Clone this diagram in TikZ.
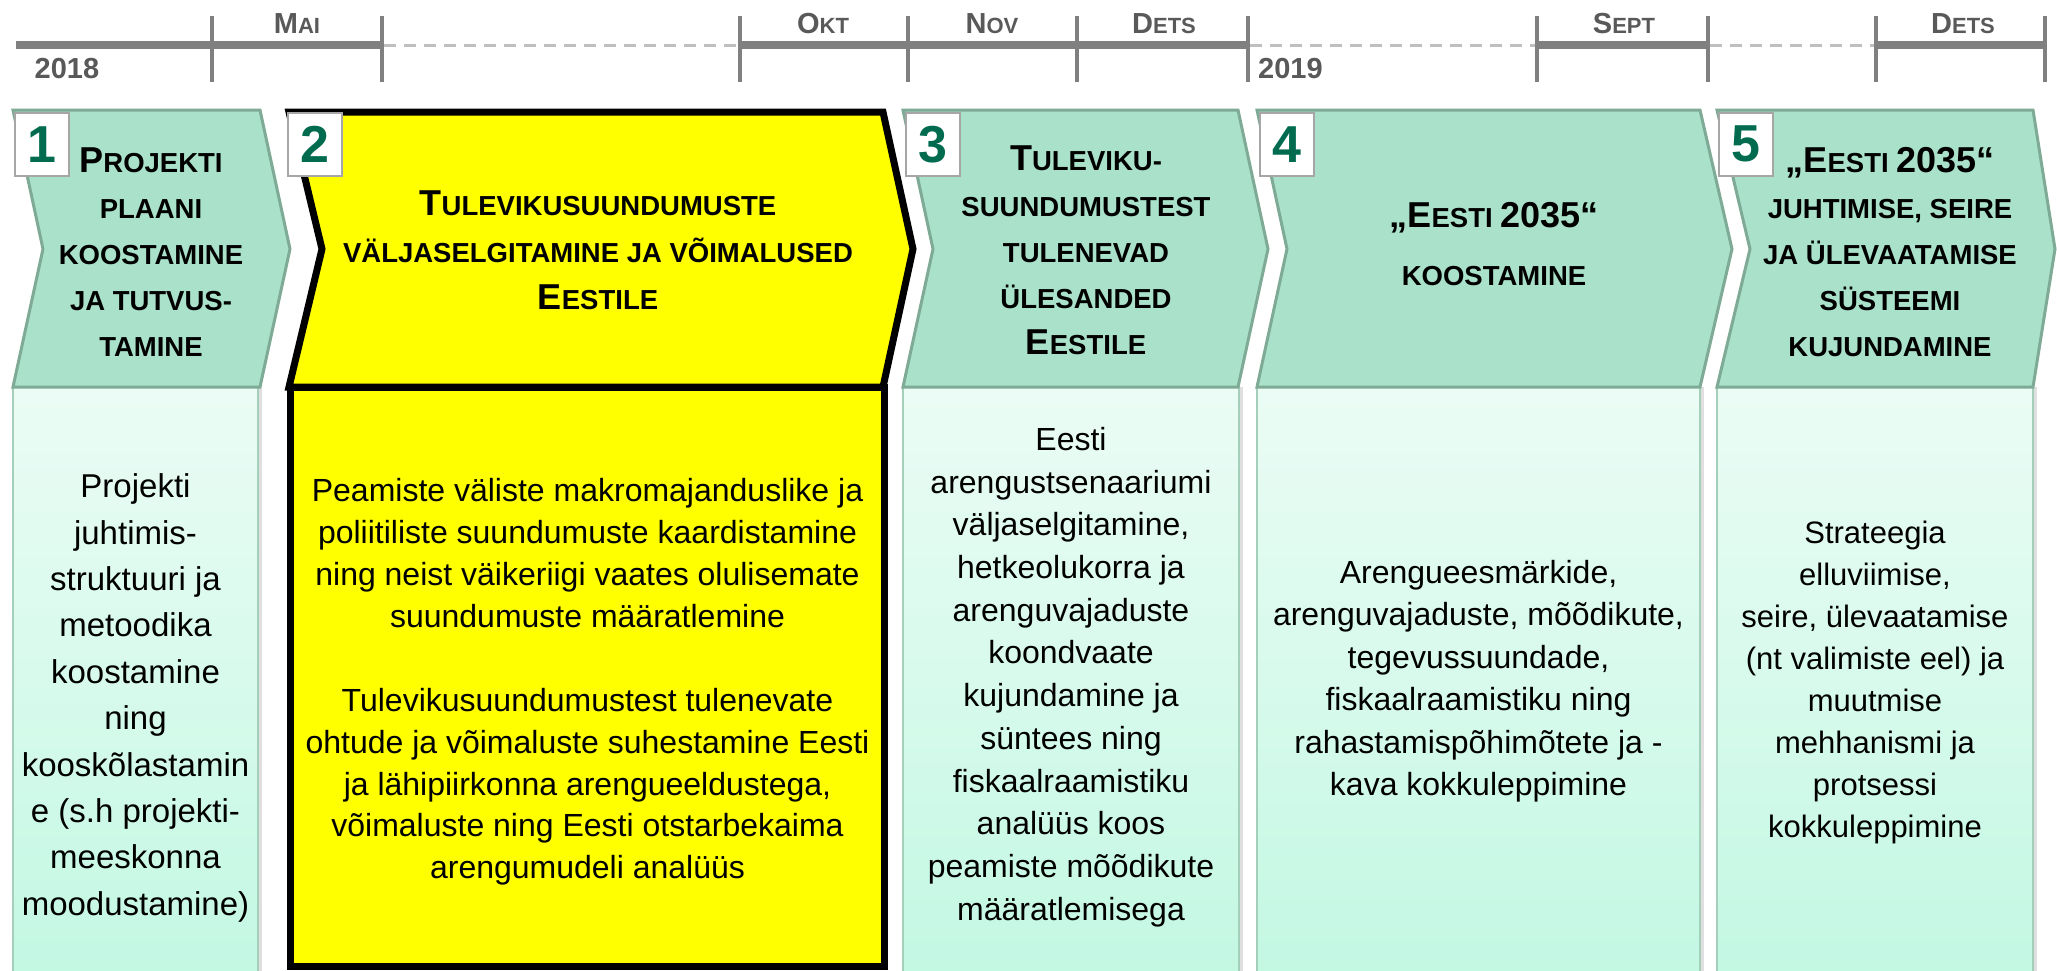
\documentclass[tikz,border=0pt]{standalone}
\usepackage{fontspec}
\setmainfont{Liberation Sans}
\usetikzlibrary{shadows}
\definecolor{numgreen}{HTML}{006B4E}
\definecolor{numdraw}{HTML}{A6A6A6}
\definecolor{chevfill}{HTML}{A9E1CA}
\definecolor{chevdraw}{HTML}{7FAA96}
\definecolor{boxtop}{HTML}{EBFCF5}
\definecolor{boxbot}{HTML}{C3F8E3}
\definecolor{boxdraw}{HTML}{A3CFBB}
\definecolor{tlgray}{HTML}{808080}
\definecolor{tldash}{HTML}{BFBFBF}
\definecolor{tltext}{HTML}{595959}
\definecolor{yel}{RGB}{255,255,0}
\newcommand{\chL}{\fontsize{36}{46}\selectfont}
\newcommand{\tlL}{\fontsize{29}{29}\selectfont}
\tikzset{
  tlsolid/.style={draw=tlgray, line width=8pt},
  tldashed/.style={draw=tldash, line width=3pt, dash pattern=on 12pt off 8pt},
  tltick/.style={draw=tlgray, line width=4.5pt},
  tllabel/.style={font=\bfseries\fontsize{22}{22}\selectfont, text=tltext, inner sep=0pt, anchor=base},
  chev/.style={fill=chevfill, draw=chevdraw, line width=3pt, line join=miter},
  lowbox/.style={top color=boxtop, bottom color=boxbot, draw=boxdraw, line width=1.5pt,
     drop shadow={opacity=0.25, shadow xshift=4pt, shadow yshift=0pt}},
  numbox/.style={draw=numdraw, line width=1.5pt, fill=white, minimum width=54pt, minimum height=63pt,
     inner sep=0pt, anchor=north west, font=\bfseries\fontsize{52}{52}\selectfont, text=numgreen},
  ctitle/.style={font=\bfseries\fontsize{27.5}{46}\selectfont, align=center, inner sep=0pt},
  lowtext/.style={align=center, inner sep=0pt, text=black},
}
\begin{document}
\begin{tikzpicture}[x=1pt, y=-1pt]
\useasboundingbox (0,0) rectangle (2057,970);
\fill[white] (0,0) rectangle (2057,970);

% ---------- timeline ----------
\draw[tlsolid] (16,45) -- (382,45);
\draw[tldashed] (384,45) -- (738,45);
\draw[tlsolid] (740,45) -- (1248,45);
\draw[tldashed] (1250,45) -- (1535,45);
\draw[tlsolid] (1537,45) -- (1708,45);
\draw[tldashed] (1710,45) -- (1874,45);
\draw[tlsolid] (1876,45) -- (2045,45);
\foreach \tx in {212,382,740,908,1077,1248,1537,1708,1876,2045}
  \draw[tltick] (\tx,16) -- (\tx,82);

\node[tllabel] (mai) at (297,33) {{\tlL M}AI};
\node[tllabel] (okt) at (823,33) {{\tlL O}KT};
\node[tllabel] (nov) at (992,33) {{\tlL N}OV};
\node[tllabel] (dets1) at (1164,33) {{\tlL D}ETS};
\node[tllabel] (sept) at (1624,33) {{\tlL S}EPT};
\node[tllabel] (dets2) at (1963,33) {{\tlL D}ETS};
\node[tllabel, font=\bfseries\fontsize{29}{29}\selectfont] (y2018) at (67,78) {2018};
\node[tllabel, font=\bfseries\fontsize{29}{29}\selectfont, anchor=base west] (y2019) at (1258,78) {2019};

% ---------- lower boxes ----------
\path[lowbox] (13,387) rectangle (258,975);
\path[lowbox] (903,387) rectangle (1239,975);
\path[lowbox] (1257,387) rectangle (1700,975);
\path[lowbox] (1717,387) rectangle (2033,975);
\filldraw[fill=yel, draw=black, line width=7pt] (290.5,387) rectangle (884.5,966);

% ---------- chevrons ----------
\path[chev] (13,110) -- (260,110) -- (290,249) -- (260,387) -- (13,387) -- (43,249) -- cycle;
\filldraw[fill=yel, draw=black, line width=7pt, line join=miter]
  (289,112) -- (883,112) -- (913,249) -- (883,387) -- (289,387) -- (322,249) -- cycle;
\path[chev] (903,110) -- (1238,110) -- (1268,249) -- (1238,387) -- (903,387) -- (933,249) -- cycle;
\path[chev] (1257,110) -- (1700,110) -- (1732,249) -- (1700,387) -- (1257,387) -- (1287,249) -- cycle;
\path[chev] (1717,110) -- (2033,110) -- (2055,249) -- (2033,387) -- (1717,387) -- (1750,249) -- cycle;

% ---------- number boxes ----------
\node[numbox] (n1) at (14,112) {1};
\node[numbox] (n2) at (287,112) {2};
\node[numbox] (n3) at (905,112) {3};
\node[numbox] (n4) at (1259,112) {4};
\node[numbox] (n5) at (1718,112) {5};

% ---------- chevron titles ----------
\node[ctitle] (t1) at (151,252) {{\chL P}ROJEKTI\\PLAANI\\KOOSTAMINE\\JA TUTVUS-\\TAMINE};
\node[ctitle, font=\bfseries\fontsize{27.5}{47}\selectfont] (t2) at (598,250)
  {{\chL T}ULEVIKUSUUNDUMUSTE\\VÄLJASELGITAMINE JA VÕIMALUSED\\{\chL E}ESTILE};
\node[ctitle] (t3) at (1086,250) {{\chL T}ULEVIKU-\\SUUNDUMUSTEST\\TULENEVAD\\ÜLESANDED\\{\chL E}ESTILE};
\node[ctitle, font=\bfseries\fontsize{27.5}{58}\selectfont] (t4) at (1494,244) {{\chL „E}ESTI {\chL 2035“}\\KOOSTAMINE};
\node[ctitle] (t5) at (1890,252) {{\chL „E}ESTI {\chL 2035“}\\JUHTIMISE, SEIRE\\JA ÜLEVAATAMISE\\SÜSTEEMI\\KUJUNDAMINE};

% ---------- lower texts ----------
\node[lowtext, font=\fontsize{33}{46.4}\selectfont] (b1) at (135.5,698)
  {Projekti\\juhtimis-\\struktuuri ja\\metoodika\\koostamine\\ning\\kooskõlastamin\\e (s.h projekti-\\meeskonna\\moodustamine)};
\node[lowtext, font=\fontsize{32}{41.9}\selectfont] (b2) at (587.5,682)
  {Peamiste väliste makromajanduslike ja\\poliitiliste suundumuste kaardistamine\\ning neist väikeriigi vaates olulisemate\\suundumuste määratlemine\\[41.9pt]Tulevikusuundumustest tulenevate\\ohtude ja võimaluste suhestamine Eesti\\ja lähipiirkonna arengueeldustega,\\võimaluste ning Eesti otstarbekaima\\arengumudeli analüüs};
\node[lowtext, font=\fontsize{32}{42.7}\selectfont] (b3) at (1071,677)
  {Eesti\\arengustsenaariumi\\väljaselgitamine,\\hetkeolukorra ja\\arenguvajaduste\\koondvaate\\kujundamine ja\\süntees ning\\fiskaalraamistiku\\analüüs koos\\peamiste mõõdikute\\määratlemisega};
\node[lowtext, font=\fontsize{32}{42.5}\selectfont] (b4) at (1478.5,681)
  {Arengueesmärkide,\\arenguvajaduste, mõõdikute,\\tegevussuundade,\\fiskaalraamistiku ning\\rahastamispõhimõtete ja -\\kava kokkuleppimine};
\node[lowtext, font=\fontsize{31}{42}\selectfont] (b5) at (1875,682)
  {Strateegia\\elluviimise,\\seire, ülevaatamise\\(nt valimiste eel) ja\\muutmise\\mehhanismi ja\\protsessi\\kokkuleppimine};
\end{tikzpicture}
\end{document}
